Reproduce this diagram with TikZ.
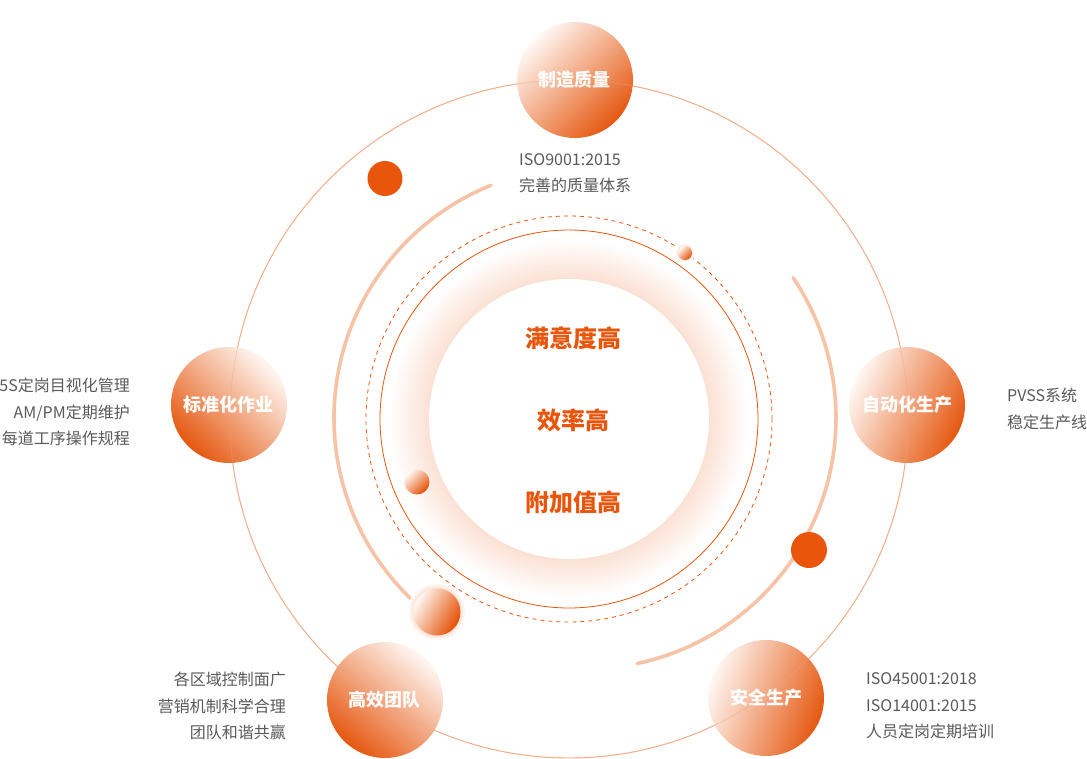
\documentclass[tikz,border=0pt]{standalone}
\usepackage{fontspec}
\setmainfont{Noto Sans CJK SC}
\definecolor{mainOrange}{HTML}{EA550C}
\definecolor{ringLine}{HTML}{F4AD87}
\definecolor{arcLine}{HTML}{F6C3A7}
\definecolor{noteGray}{HTML}{5A5A5A}
\definecolor{bubbleLight}{HTML}{FFF8F4}
\definecolor{bubbleDark}{HTML}{E44E02}
\newcommand\colorRing{ringLine}
\newcommand\colorArc{arcLine}
\newcommand\ringRadius{339}
\newcommand\coreRadius{189}
\newcommand\dashRadius{203}
\newcommand\glowRadius{140}
\newcommand\arcRadius{251}
\newcommand\drawGlow[3]{
	\foreach \i in {0,...,#3}{
		\pgfmathsetmacro\glowMix{18*\i/#3}
		\fill[color=mainOrange!\glowMix!white] #1 circle (#2+#3-\i);
	}
}
\tikzset{
	bubble/.style={circle, minimum size=116pt, inner sep=0pt,
		top color=bubbleLight, bottom color=bubbleDark, fill opacity=0.94,
		text opacity=1, text=white, font=\fontsize{18}{18}\selectfont\bfseries},
	core/.style={inner sep=0pt, text=mainOrange, font=\fontsize{24}{24}\selectfont\bfseries},
	note/.style={inner sep=0pt, text=noteGray, font=\fontsize{16}{26.5}\selectfont},
	ball/.style={top color=bubbleLight, bottom color=bubbleDark}
}

\begin{document}
\begin{tikzpicture}[x=1pt, y=1pt]
	\useasboundingbox[fill=white] (-569,-339) rectangle (518,419);

	% rings
	\draw[color=\colorRing, line width=0.9pt] (0,0) circle (\ringRadius);
	\drawGlow{(0,0)}{\glowRadius}{40}
	\fill[white] (0,0) circle (\glowRadius);
	\draw[color=mainOrange, line width=0.8pt] (0,0) circle (\coreRadius);
	\draw[color=mainOrange, line width=0.8pt, dash pattern=on 4pt off 4pt] (0,0) circle (\dashRadius);

	\draw[color=\colorArc, line width=3.6pt, line cap=round]
		(16,1) ++(112:\arcRadius) arc[start angle=112, end angle=227, radius=\arcRadius];
	\draw[color=\colorArc, line width=3.6pt, line cap=round]
		(16,1) ++(34:\arcRadius) arc[start angle=34, end angle=-78, radius=\arcRadius];

	% dots and balls
	\fill[mainOrange] (-184,240.5) circle (17.5);
	\fill[mainOrange] (240,-131) circle (18);
	\drawGlow{(116,166)}{7}{3}
	\shade[ball, shading angle=45] (116,166) circle (7);
	\shade[ball, shading angle=45] (-152,-63) circle (12.5);
	\drawGlow{(-132,-193)}{23.5}{6}
	\shade[ball, shading angle=60] (-132,-193) circle (23.5);

	% bubbles
	\node[bubble, shading angle=45] (quality) at (6,339) {制造质量};
	\node[bubble, shading angle=-45] (standard) at (-340,14) {标准化作业};
	\node[bubble, shading angle=65] (automation) at (338,14) {自动化生产};
	\node[bubble, shading angle=-40] (team) at (-184,-281) {高效团队};
	\node[bubble, shading angle=70] (safety) at (197,-279) {安全生产};
	\draw[color=\colorRing, line width=0.9pt, opacity=0.35] (0,0) circle (\ringRadius);

	% centre
	\node[core] (satisfaction) at (5,81) {满意度高};
	\node[core] (efficiency) at (5,-1) {效率高};
	\node[core] (value) at (5,-83) {附加值高};

	% notes
	\node[note, anchor=west, align=left] (qualityNote) at (-50,246) {ISO9001:2015\\完善的质量体系};
	\node[note, anchor=east, align=right] (standardNote) at (-439,7) {5S定岗目视化管理\\AM/PM定期维护\\每道工序操作规程};
	\node[note, anchor=west, align=left] (automationNote) at (438,10) {PVSS系统\\稳定生产线};
	\node[note, anchor=east, align=right] (teamNote) at (-283,-287) {各区域控制面广\\营销机制科学合理\\团队和谐共赢};
	\node[note, anchor=west, align=left] (safetyNote) at (297,-287) {ISO45001:2018\\ISO14001:2015\\人员定岗定期培训};
\end{tikzpicture}
\end{document}
